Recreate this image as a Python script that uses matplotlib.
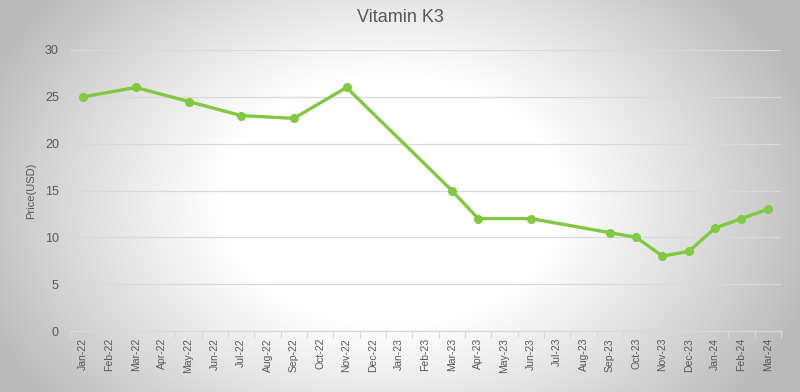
import numpy as np
import matplotlib
matplotlib.use("Agg")
import matplotlib.pyplot as plt

months = ["Jan-22","Feb-22","Mar-22","Apr-22","May-22","Jun-22","Jul-22","Aug-22","Sep-22",
          "Oct-22","Nov-22","Dec-22","Jan-23","Feb-23","Mar-23","Apr-23","May-23","Jun-23",
          "Jul-23","Aug-23","Sep-23","Oct-23","Nov-23","Dec-23","Jan-24","Feb-24","Mar-24"]
point_months = ["Jan-22","Mar-22","May-22","Jul-22","Sep-22","Nov-22","Mar-23","Apr-23",
                "Jun-23","Sep-23","Oct-23","Nov-23","Dec-23","Jan-24","Feb-24","Mar-24"]
prices = [25, 26, 24.5, 23, 22.7, 26, 15, 12, 12, 10.5, 10, 8, 8.5, 11, 12, 13]
yticks = [0, 5, 10, 15, 20, 25, 30]

plt.rcParams['font.family'] = ['Liberation Sans', 'DejaVu Sans']
W, H = 800, 392
fig = plt.figure(figsize=(W/100, H/100), dpi=100)

# radial gradient background
bg = fig.add_axes([0, 0, 1, 1])
xx, yy = np.meshgrid(np.arange(W), np.arange(H))
r = np.sqrt(((xx - 390) / 440.0) ** 2 + ((yy - 200) / 320.0) ** 2)
val = 1.0 - 0.27 * np.clip((r - 0.38) / 0.62, 0, 1) ** 1.1
img = np.dstack([val, val, val])
bg.imshow(img, extent=[0, W, H, 0], aspect='auto', interpolation='bilinear')
bg.set_xlim(0, W); bg.set_ylim(H, 0)
bg.axis('off')

ax = fig.add_axes([70/W, 1 - 331/H, 711/W, 281/H])
ax.patch.set_alpha(0)
xs = [months.index(m) for m in point_months]
ax.plot(xs, prices, color='#80c940', lw=2.4, marker='o', ms=5.5,
        markerfacecolor='#80c940', markeredgecolor='#80c940', zorder=3)

ax.set_xlim(-0.5, len(months) - 0.5)
ax.set_ylim(0, 30)
ax.set_yticks(yticks)
ax.set_xticks(range(len(months)))
ax.set_xticklabels(months, rotation=90, fontsize=7.5, color='#595959')
ax.set_xticks(np.arange(-0.5, len(months), 1), minor=True)
ax.tick_params(axis='x', which='major', length=0, pad=5)
ax.tick_params(axis='x', which='minor', length=5, color='#d9d9d9', width=0.8)
ax.tick_params(axis='y', length=0, labelsize=9, labelcolor='#595959', pad=8)
ax.yaxis.grid(True, color='#d9d9d9', lw=0.9)
ax.set_axisbelow(True)
for s in ['top', 'right', 'left']:
    ax.spines[s].set_visible(False)
ax.spines['bottom'].set_color('#d9d9d9')
ax.spines['bottom'].set_linewidth(0.9)
ax.set_ylabel('Price(USD)', fontsize=8, color='#595959', labelpad=6)
fig.text(0.5, 1 - 18/H, 'Vitamin K3', ha='center', va='center', fontsize=13, color='#595959')

fig.savefig('out.png', dpi=100)
